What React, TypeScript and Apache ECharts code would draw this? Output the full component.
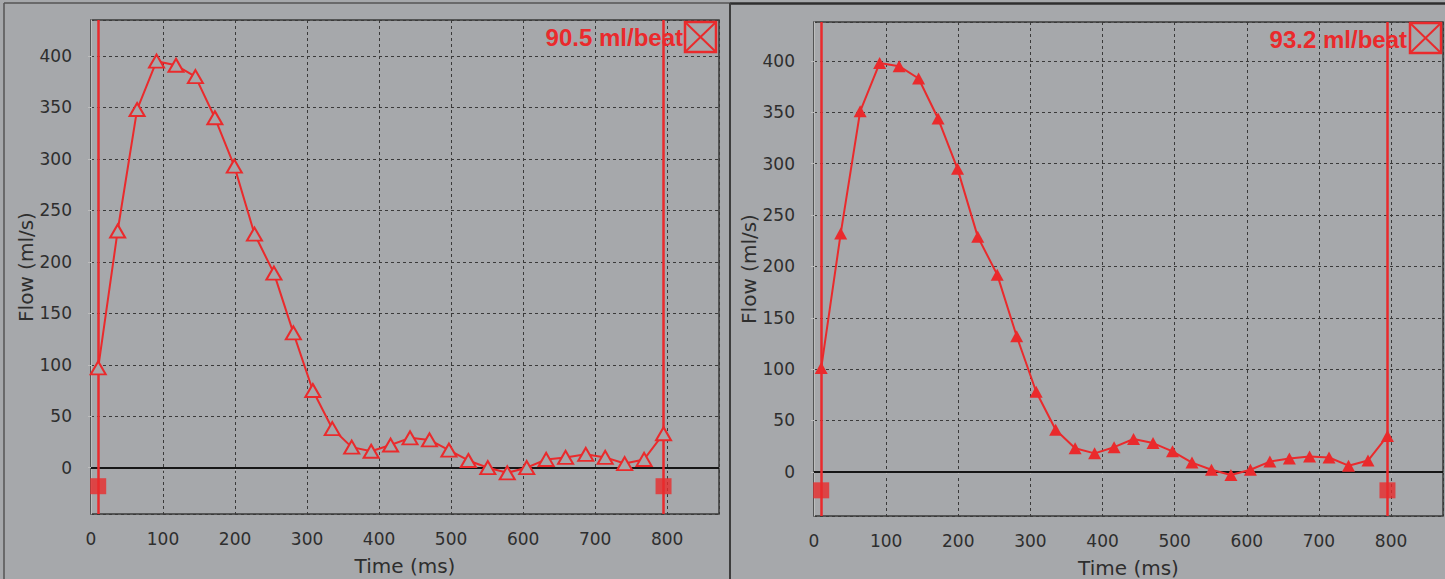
import React, { useEffect, useRef } from "react";
import * as echarts from "echarts";

// ---- data ----
const TIMES = [10, 37, 64, 91, 118, 145, 172, 199, 227, 254, 281, 308, 335, 362, 389, 416, 443, 470, 497, 524, 551, 578, 605, 632, 659, 687, 714, 741, 768, 795];
const FLOW_LEFT = [97, 230, 348, 395, 391, 380, 340, 293, 227, 189, 131, 75, 38, 20, 16, 22, 29, 27, 17, 7, 0, -5, 0, 8, 10, 13, 10, 4, 8, 33];
const FLOW_RIGHT = [101, 232, 351, 398, 395, 383, 344, 295, 229, 192, 132, 78, 41, 23, 18, 24, 32, 28, 20, 9, 2, -3, 2, 10, 13, 15, 14, 6, 11, 35];
const BEAT_LINES = [10, 795];
const MARKER_Y = -18;
const VOLUME_LABELS = ["90.5 ml/beat", "93.2 ml/beat"];
const X_NAME = "Time (ms)";
const Y_NAME = "Flow (ml/s)";
const X_RANGE = [0, 872];
const Y_RANGES = [[-45, 435], [-43, 438]];

const RED = "#ea2a2c";
const BG = "#a6a8ab";
const FONT = "DejaVu Sans";

function buildPanel(i: number, values: number[], hollow: boolean) {
  const yr = Y_RANGES[i];
  const xAxis = {
    gridIndex: i,
    type: "value",
    min: X_RANGE[0],
    max: X_RANGE[1],
    interval: 100,
    offset: 7,
    axisLine: { show: true, lineStyle: { color: "#bdbdbd", width: 1 } },
    axisTick: { show: true, length: 3, lineStyle: { color: "#bdbdbd" } },
    axisLabel: { margin: 9, fontFamily: FONT, fontSize: 17, color: "#2e2e2e", showMaxLabel: false },
    splitLine: { show: true, lineStyle: { color: "#3a3a3a", type: [3, 3], width: 1 } },
    name: X_NAME,
    nameLocation: "middle",
    nameGap: 35,
    nameTextStyle: { fontFamily: FONT, fontSize: 20, color: "#2e2e2e" },
  };
  const yAxis = {
    gridIndex: i,
    type: "value",
    min: yr[0],
    max: yr[1],
    splitNumber: 10,
    offset: 6,
    axisLine: { show: true, lineStyle: { color: "#bdbdbd", width: 1 } },
    axisTick: { show: true, length: 3, lineStyle: { color: "#bdbdbd" } },
    axisLabel: {
      margin: 13,
      fontFamily: FONT,
      fontSize: 17,
      color: "#2e2e2e",
      showMinLabel: false,
      showMaxLabel: false,
      formatter: (v: number) => (Math.abs(v % 50) < 1e-6 ? String(v) : ""),
    },
    splitLine: { show: true, lineStyle: { color: "#3a3a3a", type: [3, 3], width: 1 } },
    name: Y_NAME,
    nameLocation: "middle",
    nameGap: i === 0 ? 49 : 48,
    nameTextStyle: { fontFamily: FONT, fontSize: 20, color: "#2e2e2e" },
  };
  const series = [
    {
      type: "scatter",
      xAxisIndex: i,
      yAxisIndex: i,
      symbol: "rect",
      symbolSize: 16,
      itemStyle: { color: RED },
      data: BEAT_LINES.map((t) => [t, MARKER_Y]),
      z: 3,
      markLine: {
        silent: true,
        symbol: ["none", "none"],
        label: { show: false },
        data: [
          { yAxis: 0, lineStyle: { color: "#161616", width: 2.2, type: "solid" } },
          ...BEAT_LINES.map((t) => ({ xAxis: t, lineStyle: { color: RED, width: 2.5, type: "solid" } })),
        ],
      },
    },
    {
      type: "line",
      xAxisIndex: i,
      yAxisIndex: i,
      data: TIMES.map((t, k) => [t, values[k]]),
      symbol: "triangle",
      symbolSize: hollow ? [15, 13] : [13, 12],
      showSymbol: true,
      lineStyle: { color: RED, width: 2 },
      itemStyle: hollow
        ? { color: BG, borderColor: RED, borderWidth: 2 }
        : { color: RED, borderColor: RED, borderWidth: 0 },
      z: 5,
    },
  ];
  return { xAxis, yAxis, series };
}

function xBox(x: number, y: number, w: number, h: number) {
  return [
    { type: "rect", shape: { x, y, width: w, height: h }, style: { fill: "none", stroke: RED, lineWidth: 2.5 }, z: 100 },
    { type: "line", shape: { x1: x, y1: y, x2: x + w, y2: y + h }, style: { stroke: RED, lineWidth: 2 }, z: 100 },
    { type: "line", shape: { x1: x + w, y1: y, x2: x, y2: y + h }, style: { stroke: RED, lineWidth: 2 }, z: 100 },
  ];
}

export default function App() {
  const ref = useRef<HTMLDivElement>(null);
  useEffect(() => {
    if (!ref.current) return;
    const chart = echarts.init(ref.current, null, { renderer: "svg" });
    const p0 = buildPanel(0, FLOW_LEFT, true);
    const p1 = buildPanel(1, FLOW_RIGHT, false);
    const textStyle = (text: string) => ({
      text,
      fill: RED,
      font: 'bold 24px "Liberation Sans"',
      align: "right",
      textAlign: "right",
      verticalAlign: "middle",
      textVerticalAlign: "middle",
    });
    const option: any = {
      animation: false,
      backgroundColor: BG,
      grid: [
        { left: 91, top: 20, width: 628, height: 494, show: true, borderColor: "#3a3a3a", borderWidth: 1.5, backgroundColor: "transparent", containLabel: false, outerBoundsMode: "none" },
        { left: 814, top: 22, width: 629, height: 494, show: true, borderColor: "#3a3a3a", borderWidth: 1.5, backgroundColor: "transparent", containLabel: false, outerBoundsMode: "none" },
      ],
      xAxis: [p0.xAxis, p1.xAxis],
      yAxis: [p0.yAxis, p1.yAxis],
      series: [...p0.series, ...p1.series],
      graphic: [
        { type: "line", shape: { x1: 4, y1: 3, x2: 730, y2: 3 }, style: { stroke: "#555", lineWidth: 1.5 } },
        { type: "line", shape: { x1: 4, y1: 3, x2: 4, y2: 579 }, style: { stroke: "#555", lineWidth: 1.5 } },
        { type: "line", shape: { x1: 730, y1: 3.5, x2: 1445, y2: 3.5 }, style: { stroke: "#2e2e2e", lineWidth: 2.5 } },
        { type: "line", shape: { x1: 730, y1: 3, x2: 730, y2: 579 }, style: { stroke: "#3d3d3d", lineWidth: 2 } },
        { type: "text", x: 683, y: 37, style: textStyle(VOLUME_LABELS[0]), z: 100 },
        { type: "text", x: 1407, y: 39, style: textStyle(VOLUME_LABELS[1]), z: 100 },
        ...xBox(685, 22, 31, 30),
        ...xBox(1410, 23, 31, 30),
      ],
    };
    chart.setOption(option);
    return () => chart.dispose();
  }, []);
  return <div ref={ref} style={{ position: "fixed", left: 0, top: 0, width: 1445, height: 579 }} />;
}
